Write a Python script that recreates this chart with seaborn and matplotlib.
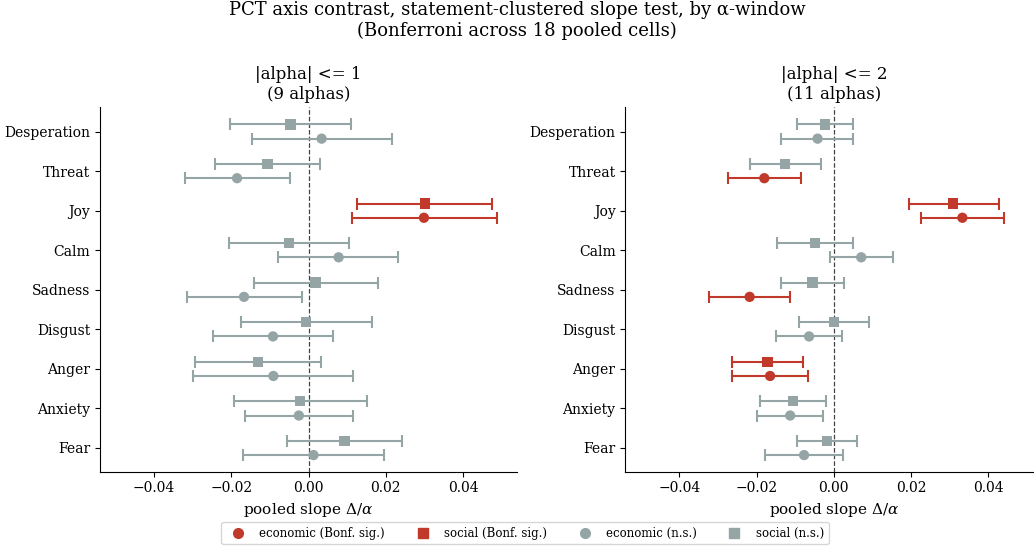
import numpy as np
import pandas as pd
import matplotlib
matplotlib.use("Agg")
import matplotlib.pyplot as plt
import seaborn as sns
from matplotlib.lines import Line2D

sns.set_style("ticks", rc={"text.color": "black", "axes.labelcolor": "black",
                           "xtick.color": "black", "ytick.color": "black",
                           "axes.edgecolor": "black"})
plt.rcParams['font.family'] = ['DejaVu Serif']
plt.rcParams['mathtext.fontset'] = 'dejavuserif'

emotions = ["Desperation", "Threat", "Joy", "Calm", "Sadness", "Disgust", "Anger", "Anxiety", "Fear"]

# |alpha| <= 1
w1_econ = [0.0034, -0.0185, 0.0299, 0.0078, -0.0167, -0.0092, -0.0091, -0.0025, 0.0013]
w1_econ_lo = [-0.0146, -0.0320, 0.0113, -0.0078, -0.0315, -0.0247, -0.0298, -0.0164, -0.0169]
w1_econ_hi = [0.0217, -0.0049, 0.0489, 0.0233, -0.0017, 0.0063, 0.0116, 0.0116, 0.0196]
w1_econ_sig = [False, False, True, False, False, False, False, False, False]
w1_soc = [-0.0047, -0.0106, 0.0301, -0.0051, 0.0018, -0.0006, -0.0131, -0.0022, 0.0093]
w1_soc_lo = [-0.0204, -0.0243, 0.0126, -0.0206, -0.0142, -0.0175, -0.0293, -0.0192, -0.0056]
w1_soc_hi = [0.0111, 0.0031, 0.0475, 0.0104, 0.0180, 0.0164, 0.0032, 0.0151, 0.0242]
w1_soc_sig = [False, False, True, False, False, False, False, False, False]

# |alpha| <= 2
w2_econ = [-0.0042, -0.0180, 0.0333, 0.0071, -0.0218, -0.0064, -0.0165, -0.0113, -0.0077]
w2_econ_lo = [-0.0136, -0.0275, 0.0226, -0.0009, -0.0322, -0.0149, -0.0263, -0.0198, -0.0178]
w2_econ_hi = [0.0051, -0.0084, 0.0441, 0.0153, -0.0114, 0.0021, -0.0066, -0.0028, 0.0024]
w2_econ_sig = [False, True, True, False, True, False, True, False, False]
w2_soc = [-0.0022, -0.0126, 0.0309, -0.0048, -0.0055, 0.0001, -0.0172, -0.0105, -0.0017]
w2_soc_lo = [-0.0095, -0.0217, 0.0194, -0.0148, -0.0137, -0.0089, -0.0264, -0.0191, -0.0095]
w2_soc_hi = [0.0050, -0.0034, 0.0427, 0.0051, 0.0027, 0.0091, -0.0079, -0.0020, 0.0060]
w2_soc_sig = [False, False, True, False, False, False, True, False, False]

panel_titles = ["|alpha| <= 1\n(9 alphas)", "|alpha| <= 2\n(11 alphas)"]
suptitle = "PCT axis contrast, statement-clustered slope test, by \u03b1-window\n(Bonferroni across 18 pooled cells)"
xticks = [-0.04, -0.02, 0.00, 0.02, 0.04]

RED = "#c0392b"
GREY = "#95a5a6"

panels = [
    (w1_econ, w1_econ_lo, w1_econ_hi, w1_econ_sig, w1_soc, w1_soc_lo, w1_soc_hi, w1_soc_sig),
    (w2_econ, w2_econ_lo, w2_econ_hi, w2_econ_sig, w2_soc, w2_soc_lo, w2_soc_hi, w2_soc_sig),
]

fig = plt.figure(figsize=(10.34, 5.46), dpi=100)
W, H = 1034, 546
ax_h = (471.7 - 107) / H
ax_b = 1 - 471.7 / H
axes = [fig.add_axes([100 / W, ax_b, 417 / W, ax_h]),
        fig.add_axes([625.3 / W, ax_b, 417 / W, ax_h])]

n = len(emotions)
base = np.arange(n)[::-1].astype(float)
off = 0.18

for ax, title, p in zip(axes, panel_titles, panels):
    econ, elo, ehi, esig, soc, slo, shi, ssig = p
    rows = []
    for i, e in enumerate(emotions):
        rows.append(dict(emotion=e, y=base[i] - off, est=econ[i], lo=elo[i], hi=ehi[i],
                         kind="economic", sig=esig[i]))
        rows.append(dict(emotion=e, y=base[i] + off, est=soc[i], lo=slo[i], hi=shi[i],
                         kind="social", sig=ssig[i]))
    df = pd.DataFrame(rows)
    df["color"] = np.where(df["sig"], RED, GREY)
    for _, r in df.iterrows():
        ax.errorbar(r["est"], r["y"], xerr=[[r["est"] - r["lo"]], [r["hi"] - r["est"]]],
                    fmt="none", ecolor=r["color"], elinewidth=1.5, capsize=4, capthick=1.5, zorder=2)
    df["grp"] = df["kind"] + np.where(df["sig"], " sig", " ns")
    pal = {"economic sig": RED, "social sig": RED, "economic ns": GREY, "social ns": GREY}
    mk = {"economic": "o", "social": "s"}
    sns.scatterplot(data=df, x="est", y="y", hue="grp", palette=pal, style="kind", markers=mk,
                    s=55, edgecolor="none", linewidth=0, ax=ax, legend=False, zorder=3)
    ax.axvline(0, color="#444444", ls="--", lw=0.9, zorder=1)
    ax.set_xlim(-0.054, 0.054)
    ax.set_ylim(-0.6, 8.62)
    ax.set_yticks(base)
    ax.set_yticklabels(emotions, fontsize=10)
    ax.set_xticks(xticks)
    ax.set_xticklabels([f"{t:.2f}".replace("-", "\u2212") for t in xticks], fontsize=10)
    ax.set_xlabel(r"pooled slope $\Delta/\alpha$", fontsize=11)
    ax.set_ylabel("")
    ax.set_title(title, fontsize=12)
    sns.despine(ax=ax)

fig.suptitle(suptitle, fontsize=13, y=0.998)

handles = [
    Line2D([], [], ls="none", marker="o", color=RED, markersize=7),
    Line2D([], [], ls="none", marker="s", color=RED, markersize=7),
    Line2D([], [], ls="none", marker="o", color=GREY, markersize=7),
    Line2D([], [], ls="none", marker="s", color=GREY, markersize=7),
]
labels = ["economic (Bonf. sig.)", "social (Bonf. sig.)", "economic (n.s.)", "social (n.s.)"]
fig.legend(handles, labels, loc="lower center", bbox_to_anchor=(525 / W, -0.008), ncol=4,
           fontsize=8.5, frameon=True, columnspacing=2.2)

fig.savefig("out.png", dpi=100)
